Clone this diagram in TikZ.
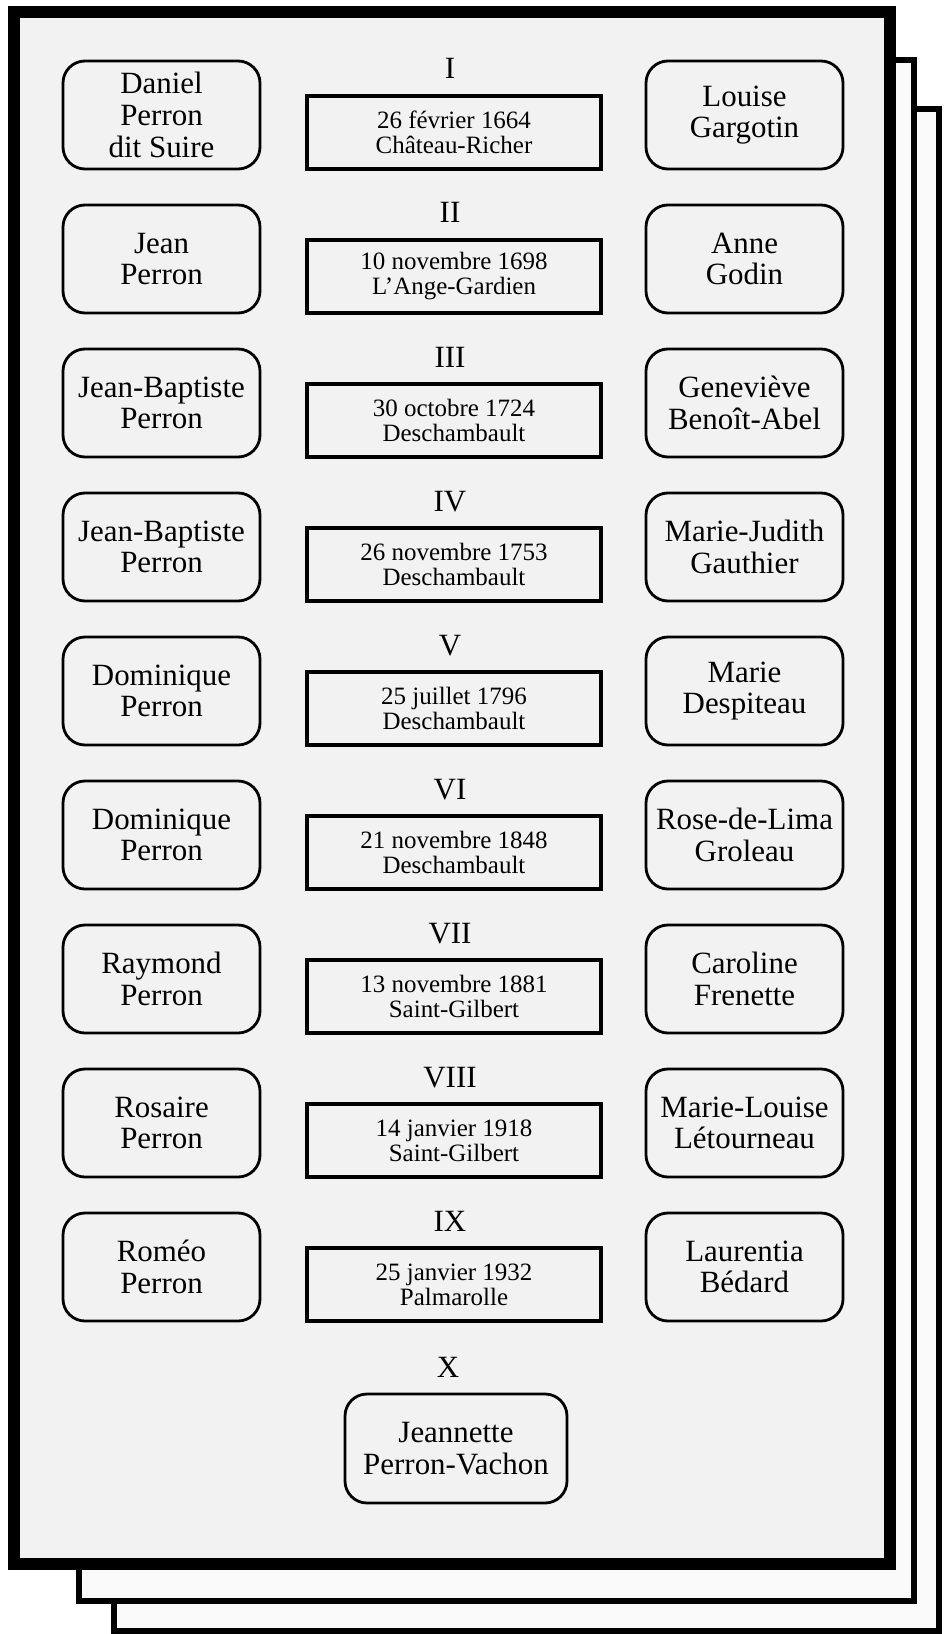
\documentclass[tikz,border=0pt]{standalone}
\usepackage{fontspec}
\setmainfont{Liberation Serif}
\usepackage{tikz}

\begin{document}
\begin{tikzpicture}[line join = miter,
                        page/.style = {draw, fill = black!2, line width = 0.06cm},
                        frontpage/.style = {draw, fill = black!5, line width = 0.12cm},
                        person/.style = {draw, rounded corners = 0.22cm, line width = 0.028cm,
                                         minimum width = 1.97cm, minimum height = 1.08cm,
                                         inner sep = 0pt, align = center,
                                         font = \fontsize{8.8}{9}\selectfont},
                        wedding/.style = {draw, line width = 0.038cm,
                                          minimum width = 2.94cm, minimum height = 0.73cm,
                                          inner sep = 0pt, align = center,
                                          font = \fontsize{7.1}{7.1}\selectfont},
                        rank/.style = {anchor = base, inner sep = 0pt,
                                       font = \fontsize{8.8}{8.8}\selectfont}]
      \useasboundingbox (0, 0) rectangle (9.45, -16.34);

      % stacked sheets
      \draw [page] (1.14, -1.09) rectangle (9.39, -16.31);
      \draw [page] (0.79, -0.60) rectangle (9.14, -16.01);
      \draw [frontpage] (0.14, -0.12) rectangle (8.90, -15.64);

      \node [person] (p1) at (1.615, -1.15) {Daniel\\Perron\\dit Suire};
      \node [person] (s1) at (7.445, -1.15) {Louise\\Gargotin};
      \node [rank] (g1) at (4.50, -0.79) {I};
      \node [wedding] (m1) at (4.54, -1.325) {26 février 1664\\Château-Richer};

      \node [person] (p2) at (1.615, -2.59) {Jean\\Perron};
      \node [person] (s2) at (7.445, -2.59) {Anne\\Godin};
      \node [rank] (g2) at (4.50, -2.23) {II};
      \node [wedding] (m2) at (4.54, -2.765) {10 novembre 1698\\L'Ange-Gardien};

      \node [person] (p3) at (1.615, -4.03) {Jean-Baptiste\\Perron};
      \node [person] (s3) at (7.445, -4.03) {Geneviève\\Benoît-Abel};
      \node [rank] (g3) at (4.50, -3.67) {III};
      \node [wedding] (m3) at (4.54, -4.205) {30 octobre 1724\\Deschambault};

      \node [person] (p4) at (1.615, -5.47) {Jean-Baptiste\\Perron};
      \node [person] (s4) at (7.445, -5.47) {Marie-Judith\\Gauthier};
      \node [rank] (g4) at (4.50, -5.11) {IV};
      \node [wedding] (m4) at (4.54, -5.645) {26 novembre 1753\\Deschambault};

      \node [person] (p5) at (1.615, -6.91) {Dominique\\Perron};
      \node [person] (s5) at (7.445, -6.91) {Marie\\Despiteau};
      \node [rank] (g5) at (4.50, -6.55) {V};
      \node [wedding] (m5) at (4.54, -7.085) {25 juillet 1796\\Deschambault};

      \node [person] (p6) at (1.615, -8.35) {Dominique\\Perron};
      \node [person] (s6) at (7.445, -8.35) {Rose-de-Lima\\Groleau};
      \node [rank] (g6) at (4.50, -7.99) {VI};
      \node [wedding] (m6) at (4.54, -8.525) {21 novembre 1848\\Deschambault};

      \node [person] (p7) at (1.615, -9.79) {Raymond\\Perron};
      \node [person] (s7) at (7.445, -9.79) {Caroline\\Frenette};
      \node [rank] (g7) at (4.50, -9.43) {VII};
      \node [wedding] (m7) at (4.54, -9.965) {13 novembre 1881\\Saint-Gilbert};

      \node [person] (p8) at (1.615, -11.23) {Rosaire\\Perron};
      \node [person] (s8) at (7.445, -11.23) {Marie-Louise\\Létourneau};
      \node [rank] (g8) at (4.50, -10.87) {VIII};
      \node [wedding] (m8) at (4.54, -11.405) {14 janvier 1918\\Saint-Gilbert};

      \node [person] (p9) at (1.615, -12.67) {Roméo\\Perron};
      \node [person] (s9) at (7.445, -12.67) {Laurentia\\Bédard};
      \node [rank] (g9) at (4.50, -12.31) {IX};
      \node [wedding] (m9) at (4.54, -12.845) {25 janvier 1932\\Palmarolle};

      \node [rank] (g10) at (4.48, -13.77) {X};
      \node [person, minimum width = 2.22cm, minimum height = 1.09cm] (p10) at (4.56, -14.485) {Jeannette\\Perron-Vachon};
      \end{tikzpicture}
\end{document}
